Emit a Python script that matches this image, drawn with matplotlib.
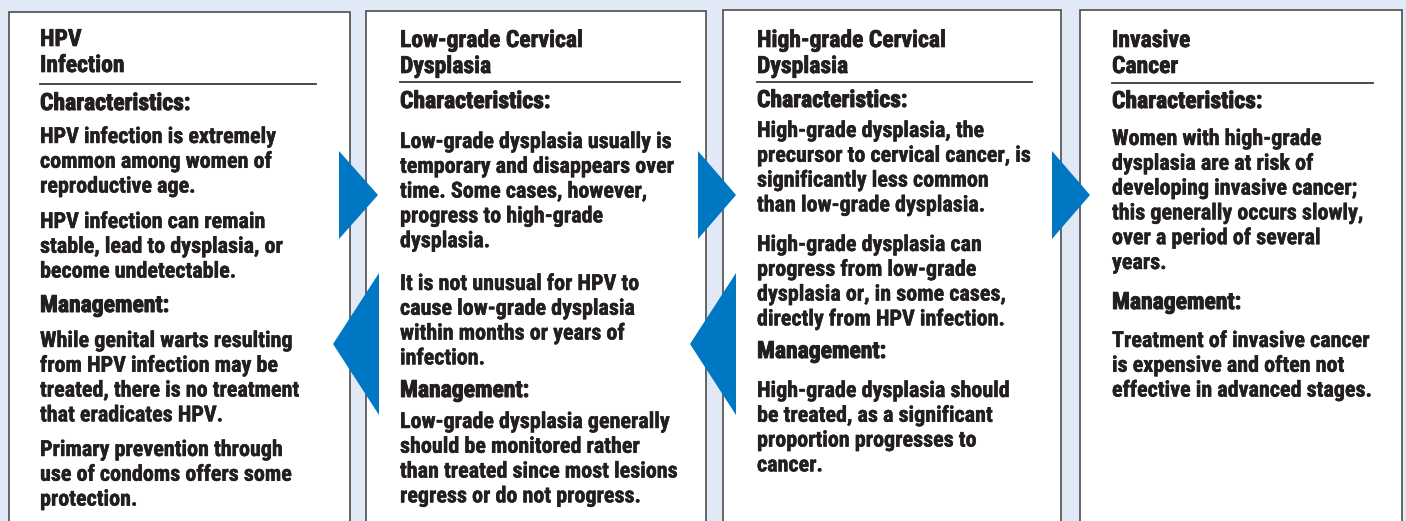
import matplotlib
matplotlib.use("Agg")
import matplotlib.pyplot as plt
from matplotlib import font_manager
import matplotlib.patheffects as pe
from matplotlib.patches import Rectangle, Polygon

# ---- content ----
titles = [
    ["HPV", "Infection"],
    ["Low-grade Cervical", "Dysplasia"],
    ["High-grade Cervical", "Dysplasia"],
    ["Invasive", "Cancer"],
]

box1_blocks = [
    ("head", ["Characteristics:"]),
    ("body", ["HPV infection is extremely", "common among women of", "reproductive age."]),
    ("body", ["HPV infection can remain", "stable, lead to dysplasia, or", "become undetectable."]),
    ("head", ["Management:"]),
    ("body", ["While genital warts resulting", "from HPV infection may be",
              "treated, there is no treatment", "that eradicates HPV."]),
    ("body", ["Primary prevention through", "use of condoms offers some", "protection."]),
]
box2_blocks = [
    ("head", ["Characteristics:"]),
    ("body", ["Low-grade dysplasia usually is", "temporary and disappears over",
              "time. Some cases, however,", "progress to high-grade", "dysplasia."]),
    ("body", ["It is not unusual for HPV to", "cause low-grade dysplasia",
              "within months or years of", "infection."]),
    ("head", ["Management:"]),
    ("body", ["Low-grade dysplasia generally", "should be monitored rather",
              "than treated since most lesions", "regress or do not progress."]),
]
box3_blocks = [
    ("head", ["Characteristics:"]),
    ("body", ["High-grade dysplasia, the", "precursor to cervical cancer, is",
              "significantly less common", "than low-grade dysplasia."]),
    ("body", ["High-grade dysplasia can", "progress from low-grade",
              "dysplasia or, in some cases,", "directly from HPV infection."]),
    ("head", ["Management:"]),
    ("body", ["High-grade dysplasia should", "be treated, as a significant",
              "proportion progresses to", "cancer."]),
]
box4_blocks = [
    ("head", ["Characteristics:"]),
    ("body", ["Women with high-grade", "dysplasia are at risk of",
              "developing invasive cancer;", "this generally occurs slowly,",
              "over a period of several", "years."]),
    ("head", ["Management:"]),
    ("body", ["Treatment of invasive cancer", "is expensive and often not",
              "effective in advanced stages."]),
]
blocks = [box1_blocks, box2_blocks, box3_blocks, box4_blocks]

# ---- layout (pixels) ----
box_x = [(9, 350), (366, 706), (723, 1061), (1080, 1402)]
box_top = [12, 11, 10, 10]
text_x = [40, 400, 757, 1112]
rule_end = [316, 680, 1032, 1373]
title_y = [46, 47, 47, 47]
rule_y = [84, 82, 82, 83]
block_y = [
    [110, 143, 228, 312, 347, 456],
    [108, 148, 290, 397, 428],
    [107, 137, 251, 358, 397],
    [108, 145, 309, 347],
]
line_step = 24.8
title_step = 26

arrows_right = [(339, 378), (698, 736), (1052, 1090)]
arrows_left = [(379, 333), (736, 690)]

bg = "#E2E9F6"
blue = "#0077C3"
ink = "#231F20"

names = {f.name for f in font_manager.fontManager.ttflist}
font = "DejaVu Sans"
for cand in ["Roboto Condensed", "Liberation Sans Narrow", "Open Sans Condensed"]:
    if cand in names:
        font = cand
        break

title_fx = [pe.withStroke(linewidth=0.5, foreground=ink)]
head_fx = [pe.withStroke(linewidth=0.7, foreground=ink)]
body_fx = [pe.withStroke(linewidth=0.3, foreground=ink)]

W, H = 1406, 521
fig = plt.figure(figsize=(W / 100, H / 100), dpi=100, facecolor=bg)
ax = fig.add_axes([0, 0, 1, 1])
ax.set_xlim(0, W)
ax.set_ylim(H, 0)
ax.axis("off")

for i in range(4):
    x0, x1 = box_x[i]
    ax.add_patch(Rectangle((x0, box_top[i]), x1 - x0, H + 20 - box_top[i],
                           facecolor="white", edgecolor="#4D4D4F", lw=1.2, zorder=1))
    for k, t in enumerate(titles[i]):
        ax.text(text_x[i], title_y[i] + k * title_step, t, fontsize=17, fontweight="bold",
                family=font, color=ink, va="baseline", zorder=3, path_effects=title_fx)
    ax.plot([text_x[i], rule_end[i]], [rule_y[i], rule_y[i]], color="#3C3C3C", lw=1.3, zorder=3)
    for (kind, lines), y0 in zip(blocks[i], block_y[i]):
        for k, t in enumerate(lines):
            ax.text(text_x[i], y0 + k * line_step, t, fontsize=17 if kind == "head" else 15.9,
                    fontweight="bold", family=font, color=ink, va="baseline", zorder=3,
                    path_effects=head_fx if kind == "head" else body_fx)

for xb, xt in arrows_right:
    ax.add_patch(Polygon([(xb, 151), (xb, 239), (xt, 195)], closed=True,
                         facecolor=blue, edgecolor="none", zorder=4))
for xb, xt in arrows_left:
    ax.add_patch(Polygon([(xb, 273), (xb, 415), (xt, 344)], closed=True,
                         facecolor=blue, edgecolor="none", zorder=4))

fig.savefig("out.png", dpi=100, facecolor=bg)
